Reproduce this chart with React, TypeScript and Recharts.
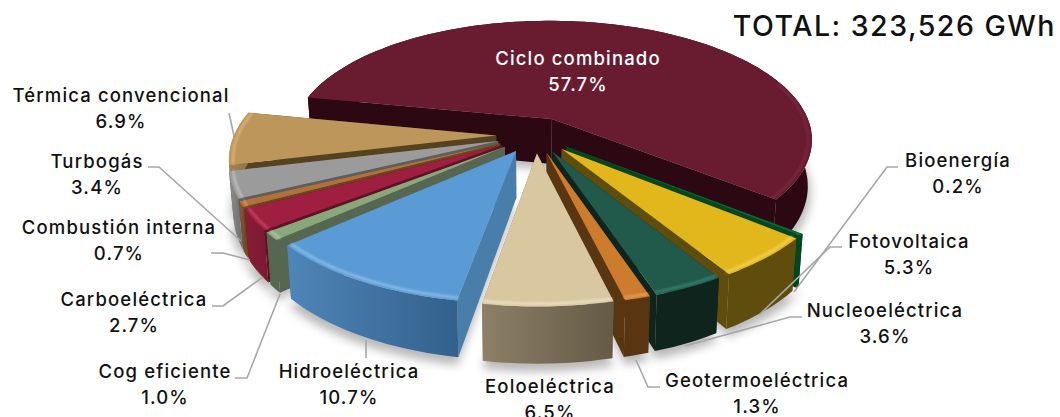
import { Pie, PieChart } from "recharts";

const names = [
  "Ciclo combinado", "Bioenergía", "Fotovoltaica", "Nucleoeléctrica", "Geotermoeléctrica", "Eoloeléctrica",
  "Hidroeléctrica", "Cog eficiente", "Carboeléctrica", "Combustión interna", "Turbogás", "Térmica convencional",
];
const shares = [57.7, 0.2, 5.3, 3.6, 1.3, 6.5, 10.7, 1.0, 2.7, 0.7, 3.4, 6.9];

const topColors = ["#691b30", "#0b6a34", "#e2b71c", "#215a4b", "#cc7c2c", "#d9c7a0", "#5b9bd5", "#8aa77c", "#9e1f3f", "#b0723a", "#9b9b9b", "#bc965a"];
const sideColors = ["#2c0813", "#04461f", "#5f4d0e", "#0e241d", "#5a3512", "#7d715a", "#4a7eaa", "#566650", "#5e1226", "#6b4522", "#5e5e5e", "#57421f"];
const wallStart = ["#2c0813", "#04461f", "#5f4d0e", "#0e241d", "#5a3512", "#8d8067", "#4f86b8", "#566650", "#8a1b36", "#8a5a2c", "#8e8e8e", "#a8854f"];
const wallEnd = ["#2c0813", "#04461f", "#5f4d0e", "#0e241d", "#5a3512", "#645a46", "#33608c", "#566650", "#7b1a32", "#6b4522", "#6e6e6e", "#8d6f41"];
const rimColors = ["#7a2c42", "#2a9a5c", "#f3d763", "#3d8572", "#e7a565", "#efe3c8", "#93c3ec", "#b3cba8", "#c9496b", "#d89a62", "#c4c4c4", "#e0b878"];

const labelSpots = [
  [578, 65], [958, 167], [909, 248], [885, 317], [757, 387], [550, 393],
  [349, 378], [165, 378], [134, 306], [119, 234], [97, 168], [121, 102],
];
const leaders = [
  [], [[898, 167], [887, 167], [794, 292]], [[842, 247], [830, 247], [759, 315]], [[802, 317], [790, 317], [685, 346]],
  [[636, 360], [648, 387], [660, 387]], [], [[366, 340], [366, 358]], [[235, 378], [247, 378], [280, 294]],
  [[212, 306], [223, 306], [263, 277]], [[211, 253], [223, 253], [250, 260]], [[148, 167], [159, 167], [241, 241]],
  [[229, 113], [234, 136]],
];

const table = names.map((name, i) => ({ name, value: shares[i] }));
const reversed = [...table].reverse();
const backNames = names.slice(0, 6);
const frontNames = names.slice(6);

const FONT = "Inter, 'Open Sans', sans-serif";
const EXPLODE = 0.15;
const SQUASH = 0.458;
const PERSPECTIVE = 0.17;
const DEPTH = 46;
const BOTTOM_SHRINK = 0.985;
const START = -191.2;

type Pt = [number, number];

// flat pie angle -> picture position, so the slice keeps the tilted perspective look
function sliceGeometry(props: any) {
  const { cx, cy, outerRadius } = props;
  const a0 = 90 - props.startAngle;
  const a1 = 90 - props.endAngle;
  const from = Math.min(a0, a1);
  const to = Math.max(a0, a1);
  const mid = ((from + to) / 2) * (Math.PI / 180);
  const eu = EXPLODE * Math.sin(mid);
  const ev = -EXPLODE * Math.cos(mid);
  const top = (deg: number, r: number): Pt => {
    const t = (deg * Math.PI) / 180;
    const u = eu + r * Math.sin(t);
    const v = ev - r * Math.cos(t);
    const w = 1 - PERSPECTIVE * v;
    return [cx + (outerRadius * u) / w, cy + (outerRadius * SQUASH * v) / w];
  };
  const low = (deg: number, r: number): Pt => {
    const t = (deg * Math.PI) / 180;
    const v = ev - r * Math.cos(t);
    const w = 1 - PERSPECTIVE * v;
    const p = top(deg, r);
    return [cx + (p[0] - cx) * BOTTOM_SHRINK, p[1] + DEPTH / w];
  };
  const steps = Math.max(2, Math.ceil((to - from) / 2));
  const degs = Array.from({ length: steps + 1 }, (_, i) => from + ((to - from) * i) / steps);
  return { from, to, degs, top, low };
}

const toPath = (pts: Pt[]) => "M" + pts.map((p) => `${p[0].toFixed(1)},${p[1].toFixed(1)}`).join("L") + "Z";
const toLine = (pts: Pt[]) => pts.map((p) => `${p[0].toFixed(1)},${p[1].toFixed(1)}`).join(" ");

function ShadowSlice(props: any) {
  const { degs, low } = sliceGeometry(props);
  const pts = degs.map((d) => low(d, 1.01));
  return <path d={toPath([low(degs[0], 0), ...pts])} fill="#7f7f7f" opacity={0.55} transform="translate(0 6)" filter="url(#softShadow)" />;
}

function Slice3D(props: any) {
  const i = names.indexOf(props.name);
  const { from, to, degs, top, low } = sliceGeometry(props);
  const topArc = degs.map((d) => top(d, 1));
  const lowArc = degs.map((d) => low(d, 1));
  // highlight only where the rim faces the viewer; Ciclo wraps past the back so keep the front run
  const frontDegs = degs.filter((d) => {
    const c = Math.cos((d * Math.PI) / 180);
    const s = Math.sin((d * Math.PI) / 180);
    return c < 0.35 && (i !== 0 || s > 0);
  });
  const rim = frontDegs.map((d) => top(d, 0.985));
  return (
    <g>
      <path d={toPath([top(from, 0), top(from, 1), low(from, 1), low(from, 0)])} fill={sideColors[i]} />
      <path d={toPath([top(to, 0), top(to, 1), low(to, 1), low(to, 0)])} fill={sideColors[i]} />
      <path d={toPath([...topArc, ...[...lowArc].reverse()])} fill={`url(#wall${i})`} />
      <path d={toPath([top(from, 0), ...topArc])} fill={topColors[i]} />
      {rim.length > 1 && (
        <polyline points={toLine(rim)} fill="none" stroke={rimColors[i]} strokeWidth={2.5} opacity={0.85} filter="url(#softRim)" />
      )}
    </g>
  );
}

function renderLabel(props: any) {
  const i = names.indexOf(props.name);
  const [x, y] = labelSpots[i];
  const fill = i === 0 ? "#ffffff" : "#111111";
  return (
    <text x={x} y={y} textAnchor="middle" fontFamily={FONT} fontSize={18.5} fontWeight={500} letterSpacing={1.15} fill={fill}>
      <tspan x={x}>{props.name}</tspan>
      <tspan x={x} dy={26}>{shares[i].toFixed(1)}%</tspan>
    </text>
  );
}

function renderLeader(props: any) {
  const pts = leaders[names.indexOf(props.name)] as Pt[];
  if (!pts.length) return <g />;
  return <polyline points={toLine(pts)} fill="none" stroke="#a6a6a6" strokeWidth={1.6} />;
}

export default function App() {
  const pieBase = {
    dataKey: "value",
    nameKey: "name",
    cx: 535.5,
    cy: 135,
    outerRadius: 262,
    startAngle: START,
    isAnimationActive: false,
  };
  return (
    <div style={{ position: "absolute", left: 0, top: 0, width: 1060, height: 417, background: "#fff", overflow: "hidden" }}>
      <PieChart width={1060} height={417} margin={{ top: 0, right: 0, bottom: 0, left: 0 }}>
        <defs>
          <filter id="softShadow" x="-10%" y="-10%" width="120%" height="120%">
            <feGaussianBlur stdDeviation="5" />
          </filter>
          <filter id="softRim" x="-10%" y="-30%" width="120%" height="160%">
            <feGaussianBlur stdDeviation="1.1" />
          </filter>
          {names.map((name, i) => (
            <linearGradient key={name} id={`wall${i}`} x1="0" y1="0" x2="1" y2="0">
              <stop offset="0%" stopColor={wallStart[i]} />
              <stop offset="100%" stopColor={wallEnd[i]} />
            </linearGradient>
          ))}
        </defs>
        <Pie {...pieBase} data={table} endAngle={START - 360} shape={(p: any) => <ShadowSlice {...p} />} />
        <Pie {...pieBase} data={table} endAngle={START - 360} shape={(p: any) => (backNames.includes(p.name) ? <Slice3D {...p} /> : <g />)} />
        <Pie {...pieBase} data={reversed} endAngle={START + 360} shape={(p: any) => (frontNames.includes(p.name) ? <Slice3D {...p} /> : <g />)} />
        <Pie {...pieBase} data={table} endAngle={START - 360} shape={() => <g />} label={renderLabel} labelLine={renderLeader} />
        <text x={1056} y={36} textAnchor="end" fontFamily={FONT} fontSize={28.5} fontWeight={500} letterSpacing={1.5} fill="#111111">
          TOTAL: 323,526 GWh
        </text>
      </PieChart>
    </div>
  );
}
